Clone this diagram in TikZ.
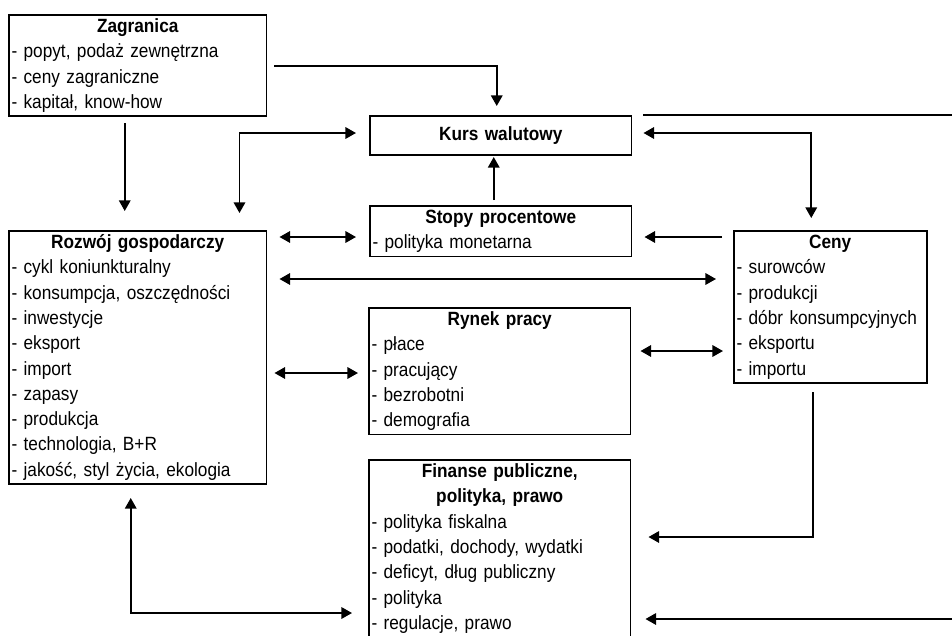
\documentclass[tikz,border=0pt]{standalone}
\usepackage{fontspec}
\setmainfont{Liberation Sans}[FakeStretch=0.9, WordSpace=0.8]
\usepackage{tikz}
\usetikzlibrary{arrows.meta, calc, positioning}
\tikzstyle{box}=[draw=black, line width=1pt, anchor=north west, align=left, inner xsep=1.5pt, inner ysep=0pt, font=\fontsize{10.9}{14.4}\selectfont, execute at begin node=\strut, execute at end node=\strut]
\tikzstyle{arr}=[line width=1pt, -{Triangle[length=6pt, width=6.5pt]}]
\tikzstyle{darr}=[line width=1pt, {Triangle[length=6pt, width=6.5pt]}-{Triangle[length=6pt, width=6.5pt]}]
\newcommand{\boxhead}[1]{\makebox[\linewidth]{\bfseries #1}}

\begin{document}
\begin{tikzpicture}[x=0.02cm, y=-0.02cm]
	\useasboundingbox (0,0) rectangle (952,635);
	\clip (0,0) rectangle (952,635);

	\node[style=box, text width=5.05cm] (1) at (8,14) {\boxhead{Zagranica}\\- popyt, podaż zewnętrzna\\- ceny zagraniczne\\- kapitał, know-how};
	\node[style=box, text width=5.13cm, minimum height=0.78cm] (2) at (369,115) {\boxhead{Kurs walutowy}};
	\node[style=box, text width=5.13cm] (3) at (369,205) {\boxhead{Stopy procentowe}\\- polityka monetarna};
	\node[style=box, text width=5.05cm] (4) at (8,230) {\boxhead{Rozwój gospodarczy}\\- cykl koniunkturalny\\- konsumpcja, oszczędności\\- inwestycje\\- eksport\\- import\\- zapasy\\- produkcja\\- technologia, B+R\\- jakość, styl życia, ekologia};
	\node[style=box, text width=5.13cm] (5) at (368,307) {\boxhead{Rynek pracy}\\- płace\\- pracujący\\- bezrobotni\\- demografia};
	\node[style=box, text width=3.75cm] (6) at (733,230) {\boxhead{Ceny}\\- surowców\\- produkcji\\- dóbr konsumpcyjnych\\- eksportu\\- importu};
	\node[style=box, text width=5.13cm] (7) at (368,459) {\boxhead{Finanse publiczne,}\\\boxhead{polityka, prawo}\\- polityka fiskalna\\- podatki, dochody, wydatki\\- deficyt, dług publiczny\\- polityka\\- regulacje, prawo\\\mbox{}};

	\coordinate (out) at (960,115);
	\coordinate (in) at (960,619);

	\draw[style=arr] ($(1.north east)+(7,52)$) -| ($(2.north)+(-4,-9)$);
	\draw[style=arr] ($(3.north)+(-7,-5)$) -- ($(2.north)+(-7,42)$);
	\draw[line width=1pt] ($(2.north east)+(11,0)$) -- (out);
	\draw[style=darr] ($(2.north east)+(11,18)$) -| ($(6.north)+(-19,-12)$);
	\draw[style=darr] ($(2.north west)+(-13,18)$) -| ($(4.north east)+(-28,-17)$);
	\draw[style=arr] ($(1.north)+(-13,109)$) -- ($(4.north)+(-13,-19)$);
	\draw[style=darr] ($(4.north east)+(12,7)$) -- ($(3.north west)+(-13,32)$);
	\draw[style=arr] ($(6.north west)+(-11,7)$) -- ($(3.north east)+(12,32)$);
	\draw[style=darr] ($(4.north east)+(12,49)$) -- ($(6.north west)+(-17,49)$);
	\draw[style=darr] ($(4.north east)+(7,143)$) -- ($(5.north west)+(-10,66)$);
	\draw[style=darr] ($(5.north east)+(9,44)$) -- ($(6.north west)+(-10,121)$);
	\draw[style=arr] ($(6.north)+(-17.5,162)$) |- ($(7.north east)+(17,78)$);
	\draw[style=arr] (in) -- ($(7.north east)+(14,160)$);
	\draw[style=darr] ($(4.north)+(-7,268)$) |- ($(7.north west)+(-16,154)$);
\end{tikzpicture}
\end{document}
